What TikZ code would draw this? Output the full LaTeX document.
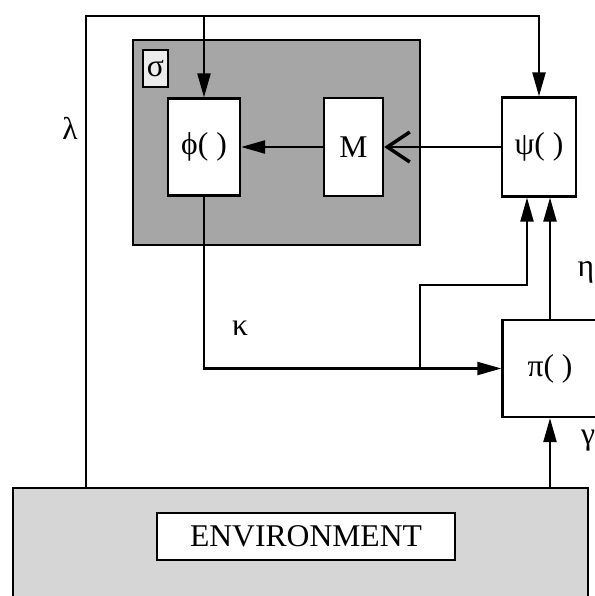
\documentclass[tikz,border=0pt]{standalone}
\usepackage{fontspec}
\setmainfont{Liberation Serif}
\usetikzlibrary{arrows.meta}
\definecolor{MemGray}{RGB}{166,166,166}
\definecolor{EnvGray}{RGB}{214,214,214}
\begin{document}
\begin{tikzpicture}[x=0.02cm,y=-0.02cm,line width=1.3pt,
      >={Triangle[length=0.48cm,width=0.26cm]},
      blk/.style={draw,fill=white,inner sep=0pt,font=\fontsize{18}{20}\selectfont},
      lbl/.style={font=\fontsize{18}{20}\selectfont,inner sep=0pt},
      barb/.style={-{Straight Barb[length=0.45cm,width=0.6cm,line width=2pt]}}]
    \useasboundingbox (0,0) rectangle (595,596);
    \fill[white] (0,0) rectangle (595,596);
    % memory block and environment
    \node[draw,fill=MemGray,minimum width=5.74cm,minimum height=4.1cm] (mem) at (276.5,142.5) {};
    \node[draw,fill=EnvGray,minimum width=11.5cm,minimum height=2.6cm] (env) at (300.5,553) {};
    \node[blk,minimum width=5.96cm,minimum height=0.94cm] (envlbl) at (306,536.5) {ENVIRONMENT};
    % function boxes
    \node[blk,fill=white!85!gray,minimum width=0.5cm,minimum height=0.74cm] (sig) at (155.5,68.5) {σ};
    \node[blk,minimum width=1.44cm,minimum height=1.94cm] (phi) at (204,147) {ϕ( )};
    \node[blk,minimum width=1.18cm,minimum height=1.96cm] (M) at (353.5,147) {M};
    \node[blk,minimum width=1.48cm,minimum height=1.98cm] (psi) at (539,147) {ψ( )};
    \node[blk,minimum width=1.9cm,minimum height=1.94cm] (pi) at (550,368.5) {π( )};
    % labels
    \node[lbl] (lam) at (70,128) {λ};
    \node[lbl] (kap) at (240,328) {κ};
    \node[lbl] (eta) at (586,272) {η};
    \node[lbl] (gam) at (588,441) {γ};
    % connectors
    \coordinate (lamfoot) at (86,489);
    \coordinate (top) at (86,16);
    \coordinate (kjoin) at (420,368.5);
    \coordinate (kbend) at (527,285);
    \draw[->] (lamfoot) -- (top) -| (psi.north);
    \draw[->] (phi.north |- top) -- (phi.north);
    \draw[->] (M.west) -- (phi.east);
    \draw[barb] (psi.west) -- (M.east);
    \draw[->] (phi.south) |- (pi.west);
    \draw[->] (kjoin) |- (kbend) -- (kbend |- psi.south);
    \draw[->] (pi.north) -- (pi.north |- psi.south);
    \draw[->] (env.north -| pi.south) -- (pi.south);
  \end{tikzpicture}
\end{document}
